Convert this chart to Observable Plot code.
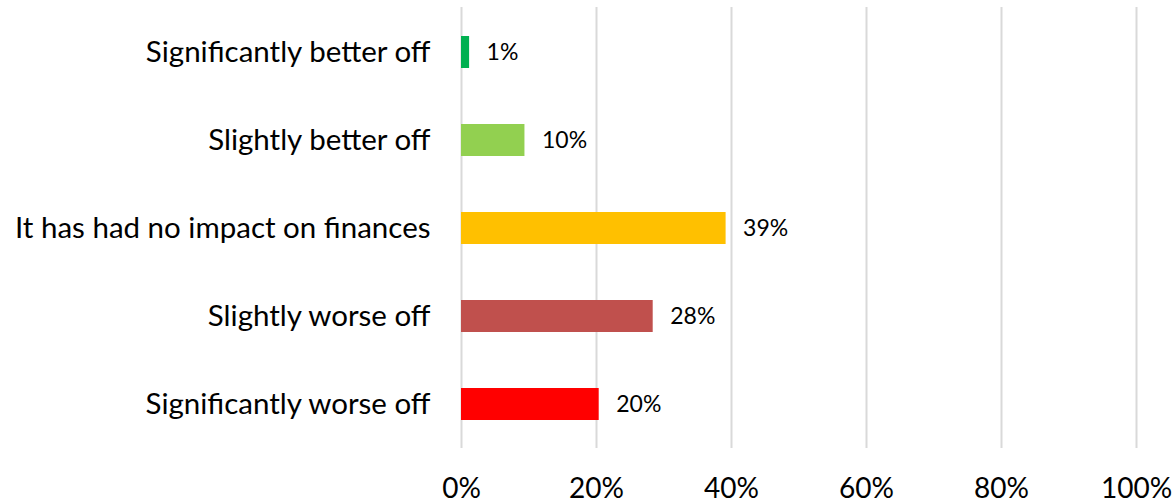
<!DOCTYPE html>
<html><head>
<meta charset="utf-8">
<script src="https://cdn.jsdelivr.net/npm/d3@7"></script>
<script src="https://cdn.jsdelivr.net/npm/@observablehq/plot@0.6"></script>
<style>html,body{margin:0;padding:0;background:#fff} svg{display:block}</style>
</head><body><div id="chart"></div>
<script>
const categories = ["Significantly better off","Slightly better off","It has had no impact on finances","Slightly worse off","Significantly worse off"];
const values = [1.2, 9.4, 39.2, 28.4, 20.4];
const valueLabels = ["1%","10%","39%","28%","20%"];
const barColors = ["#00B050","#92D050","#FFC000","#C0504D","#FF0000"];
const xTicks = [0,20,40,60,80,100];

const data = categories.map((c,i)=>({category:c, value:values[i], label:valueLabels[i], color:barColors[i]}));

const chart = Plot.plot({
  width:1173, height:503,
  marginLeft:461, marginRight:37, marginTop:7, marginBottom:55,
  style:{fontFamily:"Lato, 'Open Sans', sans-serif", background:"#fff", color:"#000"},
  x:{domain:[0,100], label:null},
  y:{domain:categories, paddingInner:0.64, paddingOuter:0.32, label:null},
  color:{type:"identity"},
  marks:[
    Plot.gridX(xTicks,{stroke:"#d9d9d9", strokeWidth:2, strokeOpacity:1}),
    Plot.barX(data,{x:"value", y:"category", fill:"color"}),
    Plot.text(data,{x:"value", y:"category", text:"label", textAnchor:"start", dx:17, fontSize:23, fill:"#000"}),
    Plot.axisX({ticks:xTicks, tickSize:0, tickPadding:30, fontSize:28, tickFormat:d=>d+"%", label:null}),
    Plot.axisY({tickSize:0, tickPadding:31, fontSize:29.5, label:null})
  ]
});
document.getElementById("chart").append(chart);
</script>
</body></html>
